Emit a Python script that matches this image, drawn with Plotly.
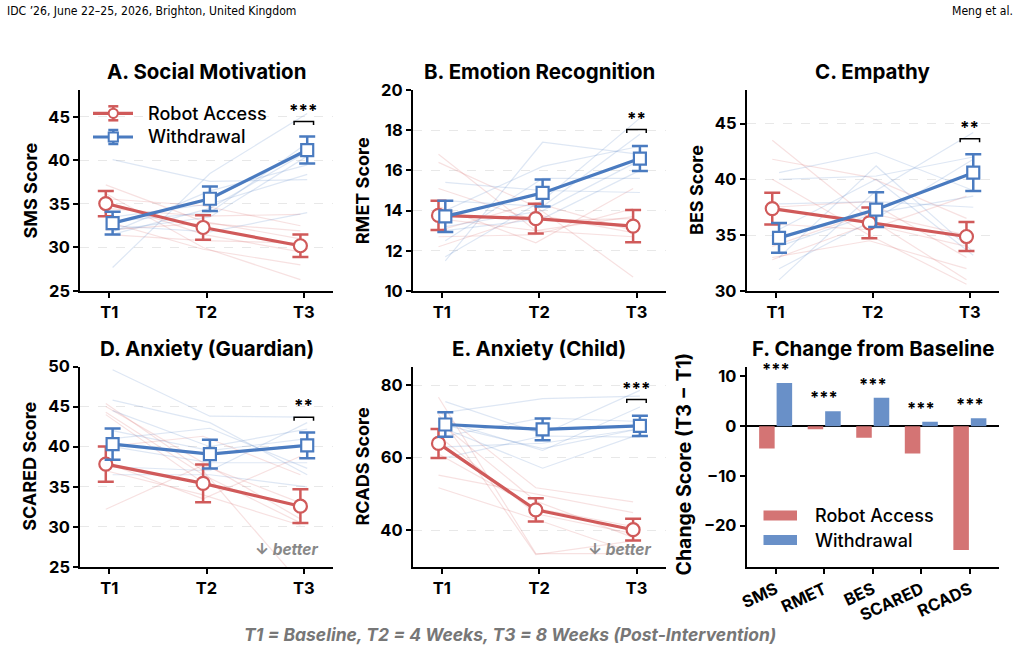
import plotly.graph_objects as go

W, H = 1020, 651

# ---------------- data ----------------
TIMEPOINTS = ["T1", "T2", "T3"]
GROUPS = ["Robot Access", "Withdrawal"]

# A. Social Motivation (SMS)
sms_robot_mean = [35.05, 32.3, 30.2]
sms_robot_sem = [1.45, 1.4, 1.3]
sms_withdrawal_mean = [32.8, 35.6, 41.2]
sms_withdrawal_sem = [1.3, 1.4, 1.55]
sms_robot_individual = [
    [37.2, 33.0, 31.0], [36.2, 30.0, 26.3], [35.6, 34.8, 32.5], [35.3, 31.5, 29.5],
    [34.5, 33.6, 33.8], [33.0, 29.8, 28.0], [32.0, 32.8, 31.9], [31.5, 30.8, 30.5]]
sms_withdrawal_individual = [
    [40.1, 37.6, 37.8], [27.7, 38.5, 45.4], [31.5, 34.5, 41.0], [32.0, 33.5, 40.5],
    [33.5, 35.0, 38.4], [32.5, 31.8, 34.0], [31.8, 36.5, 39.5], [33.0, 34.0, 42.0]]

# B. Emotion Recognition (RMET)
rmet_robot_mean = [13.76, 13.6, 13.23]
rmet_robot_sem = [0.73, 0.74, 0.8]
rmet_withdrawal_mean = [13.71, 14.88, 16.59]
rmet_withdrawal_sem = [0.78, 0.67, 0.62]
rmet_robot_individual = [
    [16.8, 13.0, 12.7], [16.4, 14.2, 10.7], [15.1, 13.5, 13.6], [14.2, 12.4, 15.1],
    [13.0, 14.4, 13.0], [12.7, 12.8, 14.1], [12.2, 13.8, 12.9], [13.6, 13.0, 13.7]]
rmet_withdrawal_individual = [
    [11.5, 17.4, 16.8], [11.7, 14.5, 18.6], [15.4, 15.0, 14.9], [12.5, 15.6, 15.6],
    [13.2, 14.0, 16.5], [14.0, 16.2, 17.2], [13.0, 13.6, 16.0], [14.5, 14.2, 17.8]]

# C. Empathy (BES)
bes_robot_mean = [37.38, 36.1, 34.88]
bes_robot_sem = [1.42, 1.38, 1.3]
bes_withdrawal_mean = [34.76, 37.29, 40.6]
bes_withdrawal_sem = [1.33, 1.55, 1.65]
bes_robot_individual = [
    [43.5, 36.5, 31.0], [41.8, 40.2, 36.5], [40.0, 35.0, 30.6], [37.5, 38.0, 33.0],
    [36.0, 35.5, 38.5], [34.0, 37.0, 35.0], [33.0, 34.5, 32.0], [32.8, 36.0, 34.0]]
bes_withdrawal_individual = [
    [40.6, 42.4, 39.0], [40.0, 40.3, 42.0], [31.0, 39.0, 44.2], [33.0, 41.2, 33.5],
    [37.8, 38.0, 37.5], [32.0, 36.5, 41.8], [35.5, 40.0, 33.2], [34.0, 37.0, 38.5]]

# D. Anxiety (Guardian) (SCARED)
scared_robot_mean = [37.83, 35.42, 32.58]
scared_robot_sem = [2.2, 2.35, 2.1]
scared_withdrawal_mean = [40.33, 39.08, 40.17]
scared_withdrawal_sem = [1.95, 1.8, 1.6]
scared_robot_individual = [
    [45.4, 37.0, 23.0], [45.0, 38.0, 31.0], [44.3, 36.5, 30.5], [40.0, 41.3, 36.5],
    [38.0, 33.5, 38.8], [37.0, 34.0, 30.2], [32.2, 37.7, 33.0], [44.0, 35.5, 32.5]]
scared_withdrawal_individual = [
    [49.6, 43.8, 43.7], [45.8, 43.0, 36.5], [44.5, 40.0, 42.2], [41.0, 42.3, 37.3],
    [40.0, 38.0, 38.0], [37.5, 37.0, 43.0], [36.5, 36.5, 35.0], [42.0, 39.5, 41.0]]

# E. Anxiety (Child) (RCADS)
rcads_robot_mean = [63.94, 45.6, 40.1]
rcads_robot_sem = [4.0, 3.2, 3.0]
rcads_withdrawal_mean = [69.17, 67.8, 68.8]
rcads_withdrawal_sem = [3.4, 3.0, 2.8]
rcads_robot_individual = [
    [76.7, 33.5, 33.5], [73.0, 51.7, 47.8], [72.0, 33.2, 37.0], [70.0, 48.0, 38.0],
    [61.0, 46.0, 41.0], [55.2, 50.0, 44.8], [51.7, 43.0, 33.8], [66.0, 44.5, 39.0]]
rcads_withdrawal_individual = [
    [75.5, 66.5, 78.6], [72.5, 76.3, 77.0], [70.0, 62.0, 74.0], [68.0, 57.1, 66.5],
    [66.0, 71.0, 70.0], [63.0, 64.0, 68.0], [60.0, 66.0, 65.7], [69.0, 62.5, 68.0]]

# F. Change from baseline (T3 - T1)
change_measures = ["SMS", "RMET", "BES", "SCARED", "RCADS"]
change_robot = [-4.47, -0.6, -2.33, -5.47, -24.9]
change_withdrawal = [8.67, 3.0, 5.73, 0.87, 1.6]
change_sig = ["***", "***", "***", "***", "***"]

# ---------------- style ----------------
FONT = "Inter, 'Liberation Sans', Arial, sans-serif"
RED = "#D05A5A"
BLUE = "#4A7BC0"
RED_FAINT = "rgba(208,90,90,0.18)"
BLUE_FAINT = "rgba(74,123,192,0.18)"
RED_BAR = "#D47474"
BLUE_BAR = "#6990C8"
OFF = 0.035

col_px = [(80, 333), (412.7, 665.7), (746.5, 999)]
row_px = [(90, 291), (366.5, 567)]

panels = [
    dict(title="A. Social Motivation", ytitle="SMS Score",
         rm=sms_robot_mean, rs=sms_robot_sem, wm=sms_withdrawal_mean, ws=sms_withdrawal_sem,
         ri=sms_robot_individual, wi=sms_withdrawal_individual,
         yrange=[25, 48.1], ticks=[25, 30, 35, 40, 45], sig="***", sig_y=44.47, better=False),
    dict(title="B. Emotion Recognition", ytitle="RMET Score",
         rm=rmet_robot_mean, rs=rmet_robot_sem, wm=rmet_withdrawal_mean, ws=rmet_withdrawal_sem,
         ri=rmet_robot_individual, wi=rmet_withdrawal_individual,
         yrange=[10, 20], ticks=[10, 12, 14, 16, 18, 20], sig="**", sig_y=18.03, better=False),
    dict(title="C. Empathy", ytitle="BES Score",
         rm=bes_robot_mean, rs=bes_robot_sem, wm=bes_withdrawal_mean, ws=bes_withdrawal_sem,
         ri=bes_robot_individual, wi=bes_withdrawal_individual,
         yrange=[30, 48], ticks=[30, 35, 40, 45], sig="**", sig_y=43.64, better=False),
    dict(title="D. Anxiety (Guardian)", ytitle="SCARED Score",
         rm=scared_robot_mean, rs=scared_robot_sem, wm=scared_withdrawal_mean, ws=scared_withdrawal_sem,
         ri=scared_robot_individual, wi=scared_withdrawal_individual,
         yrange=[25, 50], ticks=[25, 30, 35, 40, 45, 50], sig="**", sig_y=43.67, better=True),
    dict(title="E. Anxiety (Child)", ytitle="RCADS Score",
         rm=rcads_robot_mean, rs=rcads_robot_sem, wm=rcads_withdrawal_mean, ws=rcads_withdrawal_sem,
         ri=rcads_robot_individual, wi=rcads_withdrawal_individual,
         yrange=[29.8, 85.2], ticks=[40, 60, 80], sig="***", sig_y=76.05, better=True),
]

fig = go.Figure()
layout = {}
shapes = []
annotations = []


def px_x(x):
    return x / W


def px_y(y):
    return 1 - y / H


def axis_common():
    return dict(showline=True, linecolor="black", linewidth=1.5, ticks="outside",
                ticklen=5, tickwidth=1.5, tickcolor="black", automargin=False,
                tickfont=dict(family=FONT, size=16.5, color="black", weight="bold"))


def note(x, y, text, size, xanchor="center", yanchor="middle", angle=0, color="black",
         weight="bold", xref="paper", yref="paper", **kw):
    annotations.append(dict(x=x, y=y, xref=xref, yref=yref, text=text, showarrow=False,
                            xanchor=xanchor, yanchor=yanchor, textangle=angle,
                            font=dict(family=kw.pop("family", FONT), size=size, color=color,
                                      weight=weight), **kw))


for i in range(6):
    r, c = divmod(i, 3)
    x0, x1 = col_px[c]
    y0, y1 = row_px[r]
    n = i + 1
    xa = axis_common()
    xa.update(domain=[px_x(x0), px_x(x1)], anchor=f"y{n}", showgrid=False, zeroline=False)
    ya = axis_common()
    ya.update(domain=[px_y(y1), px_y(y0)], anchor=f"x{n}")
    layout[f"xaxis{n}"] = xa
    layout[f"yaxis{n}"] = ya

for i, p in enumerate(panels):
    n = i + 1
    xs, ys = f"x{n}", f"y{n}"
    r, c = divmod(i, 3)
    x0, x1 = col_px[c]
    y0, y1 = row_px[r]
    # individual trajectories
    for indiv, col, off in ((p["ri"], RED_FAINT, -OFF), (p["wi"], BLUE_FAINT, OFF)):
        xx, yy = [], []
        for subj in indiv:
            xx += [k + off for k in range(3)] + [None]
            yy += list(subj) + [None]
        fig.add_trace(go.Scatter(x=xx, y=yy, mode="lines", xaxis=xs, yaxis=ys,
                                 line=dict(color=col, width=1.2), showlegend=False,
                                 hoverinfo="skip"))
    # group means
    for mean, sem, col, off, sym, name in (
            (p["rm"], p["rs"], RED, -OFF, "circle", GROUPS[0]),
            (p["wm"], p["ws"], BLUE, OFF, "square", GROUPS[1])):
        fig.add_trace(go.Scatter(
            x=[k + off for k in range(3)], y=mean, mode="lines+markers", name=name,
            xaxis=xs, yaxis=ys, showlegend=False,
            line=dict(color=col, width=3.2),
            marker=dict(symbol=sym, size=13 if sym == "circle" else 12, color="white",
                        line=dict(color=col, width=2.2)),
            error_y=dict(type="data", array=sem, visible=True, thickness=2.5, width=8, color=col)))
    layout[f"xaxis{n}"].update(range=[-0.3, 2.3], tickvals=[0, 1, 2], ticktext=TIMEPOINTS)
    layout[f"yaxis{n}"].update(range=p["yrange"], tickvals=p["ticks"], showgrid=True,
                               gridcolor="#e8e8e8", griddash="dash", gridwidth=1, zeroline=False)
    # significance bracket
    ppu = (y1 - y0) / (p["yrange"][1] - p["yrange"][0])
    tip = 3.5 / ppu
    sy = p["sig_y"]
    shapes.append(dict(type="path", xref=xs, yref=ys,
                       path=f"M 1.9,{sy - tip} L 1.9,{sy} L 2.1,{sy} L 2.1,{sy - tip}",
                       line=dict(color="black", width=1.5)))
    note(2, sy, p["sig"], 17, yanchor="bottom", xref=xs, yref=ys, yshift=-1)
    # panel title
    note(px_x((x0 + x1) / 2), px_y(y0 - 18), p["title"], 20.5)
    # y title
    note(px_x(x0 - 50), px_y((y0 + y1) / 2), p["ytitle"], 18, angle=-90)
    if p["better"]:
        note(px_x(x1 - 13), px_y(549), "↓ <i>better</i>", 15.5, xanchor="right", color="#888888")

# ---------------- panel F: bars ----------------
cats = list(range(len(change_measures)))
fig.add_trace(go.Bar(x=[k - 0.18 for k in cats], y=change_robot, width=0.32, name=GROUPS[0],
                     marker=dict(color=RED_BAR, line=dict(width=0)), xaxis="x6", yaxis="y6",
                     showlegend=False))
fig.add_trace(go.Bar(x=[k + 0.18 for k in cats], y=change_withdrawal, width=0.32, name=GROUPS[1],
                     marker=dict(color=BLUE_BAR, line=dict(width=0)), xaxis="x6", yaxis="y6",
                     showlegend=False))
layout["xaxis6"].update(range=[-0.6, 4.6], tickvals=cats, ticktext=change_measures, tickangle=-25)
layout["yaxis6"].update(range=[-28.3, 12.0], tickvals=[-20, -10, 0, 10], showgrid=False,
                        zeroline=True, zerolinecolor="black", zerolinewidth=1.5)
for k in cats:
    top = max(0, change_robot[k], change_withdrawal[k])
    note(k, top + 2.8, change_sig[k], 16.5, xref="x6", yref="y6")
fx0, fx1 = col_px[2]
fy0, fy1 = row_px[1]
note(px_x((fx0 + fx1) / 2), px_y(fy0 - 18), "F. Change from Baseline", 20.5)
note(px_x(fx0 - 63), px_y(464), "Change Score (T3 − T1)", 19.5, angle=-90)

# ---------------- manual legends ----------------
for y, col, sym, name in ((113.3, RED, "circle", GROUPS[0]), (137.0, BLUE, "square", GROUPS[1])):
    cx = 113.3
    shapes.append(dict(type="line", xref="paper", yref="paper", x0=px_x(93), x1=px_x(133),
                       y0=px_y(y), y1=px_y(y), line=dict(color=col, width=3.2)))
    shapes.append(dict(type="line", xref="paper", yref="paper", x0=px_x(cx), x1=px_x(cx),
                       y0=px_y(y - 7), y1=px_y(y + 7), line=dict(color=col, width=2.5)))
    for yy in (y - 7, y + 7):
        shapes.append(dict(type="line", xref="paper", yref="paper", x0=px_x(cx - 5), x1=px_x(cx + 5),
                           y0=px_y(yy), y1=px_y(yy), line=dict(color=col, width=2.5)))
    rr = 4.6
    shapes.append(dict(type="circle" if sym == "circle" else "rect", xref="paper", yref="paper",
                       x0=px_x(cx - rr), x1=px_x(cx + rr), y0=px_y(y - rr), y1=px_y(y + rr),
                       fillcolor="white", line=dict(color=col, width=2)))
    note(px_x(146), px_y(y), name, 18, xanchor="left", weight=500)

for y, col, name in ((515.5, RED_BAR, GROUPS[0]), (540.0, BLUE_BAR, GROUPS[1])):
    shapes.append(dict(type="rect", xref="paper", yref="paper", x0=px_x(763.5), x1=px_x(797),
                       y0=px_y(y - 5), y1=px_y(y + 5), fillcolor=col, line=dict(width=0)))
    note(px_x(813), px_y(y), name, 18, xanchor="left", weight=500)

# ---------------- header / footer ----------------
HEADER_FONT = "'Liberation Sans Narrow', 'DejaVu Sans Condensed', 'Liberation Sans', sans-serif"
note(px_x(5), px_y(11), "IDC ’26, June 22–25, 2026, Brighton, United Kingdom", 12.1,
     xanchor="left", weight="normal", family=HEADER_FONT)
note(px_x(1015), px_y(11), "Meng et al.", 12.1, xanchor="right", weight="normal",
     family=HEADER_FONT)
note(0.5, px_y(634), "<i>T1 = Baseline, T2 = 4 Weeks, T3 = 8 Weeks (Post-Intervention)</i>",
     17.5, color="#777777")

fig.update_layout(width=W, height=H, margin=dict(l=0, r=0, t=0, b=0),
                  paper_bgcolor="white", plot_bgcolor="white", showlegend=False,
                  barmode="overlay", shapes=shapes, annotations=annotations, **layout)

fig.write_html("out.html")
